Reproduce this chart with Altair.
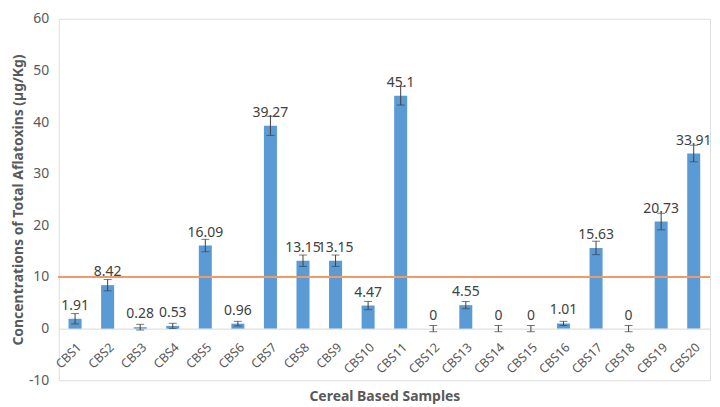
import altair as alt
import pandas as pd

samples = [f"CBS{i}" for i in range(1, 21)]
values = [1.91, 8.42, 0.28, 0.53, 16.09, 0.96, 39.27, 13.15, 13.15, 4.47,
          45.1, 0, 4.55, 0, 0, 1.01, 15.63, 0, 20.73, 33.91]
labels = ["1.91", "8.42", "0.28", "0.53", "16.09", "0.96", "39.27", "13.15", "13.15", "4.47",
          "45.1", "0", "4.55", "0", "0", "1.01", "15.63", "0", "20.73", "33.91"]
errors = [1.0, 1.1, 0.55, 0.5, 1.2, 0.45, 1.85, 1.1, 1.1, 0.8,
          1.8, 0.6, 0.7, 0.6, 0.6, 0.4, 1.3, 0.6, 1.6, 1.6]
limit_value = 10
y_ticks = [-10, 0, 10, 20, 30, 40, 50, 60]

df = pd.DataFrame({
    "sample": samples,
    "value": values,
    "label": labels,
    "lo": [v - e for v, e in zip(values, errors)],
    "hi": [v + e for v, e in zip(values, errors)],
    "limit": [limit_value] * len(samples),
})

W, H = 654, 363
FONT = "Noto Sans"
GRAY = "#595959"
X_TITLE = "Cereal Based Samples"
Y_TITLE = "Concentrations of Total Aflatoxins (µg/Kg)"

xscale = alt.Scale(domain=samples, paddingInner=0.6, paddingOuter=0.3)
yscale = alt.Scale(domain=[-10, 60], nice=False, zero=False)

x_axis = alt.Axis(labelAngle=-45, offset=-H * 10 / 70, ticks=False,
                  domainColor="#d9d9d9", domainWidth=1,
                  labelFont=FONT, labelFontSize=12.5, labelColor=GRAY,
                  labelPadding=12,
                  titleFont=FONT, titleFontSize=14, titleColor=GRAY,
                  titleFontWeight="bold", titlePadding=14)
y_axis = alt.Axis(values=y_ticks, grid=False, domain=False, ticks=False,
                  labelExpr="'' + datum.value",
                  labelFont=FONT, labelFontSize=14, labelColor=GRAY,
                  labelPadding=10,
                  titleFont=FONT, titleFontSize=14, titleColor=GRAY,
                  titleFontWeight="bold", titlePadding=3)


def xe():
    return alt.X("sample:N", scale=xscale, sort=samples, axis=x_axis, title=X_TITLE)


def ye(field):
    return alt.Y(field, scale=yscale, axis=y_axis, title=Y_TITLE)


base = alt.Chart(df)

bars = base.mark_bar(color="#5B9BD5").encode(x=xe(), y=ye("value:Q"))

limit = base.mark_rule(color="#EE9A66", strokeWidth=1, strokeOpacity=0.85).encode(
    y=ye("limit:Q"))

errs = base.mark_errorbar(ticks={"size": 8, "color": "#404040", "strokeWidth": 1},
                          color="#404040", thickness=1).encode(
    x=xe(), y=ye("lo:Q"), y2="hi:Q",
)

texts = base.mark_text(font=FONT, fontSize=14, color="#404040",
                       baseline="alphabetic", dy=-9).encode(
    x=xe(), y=ye("value:Q"), text="label:N",
)

chart = alt.layer(bars, limit, errs, texts).properties(
    width=W, height=H, padding={"left": 3, "top": 3, "right": 0, "bottom": 0}
).configure_view(stroke=None).configure(background="white")

chart.save("out.html", embed_options={"renderer": "svg", "actions": False})
